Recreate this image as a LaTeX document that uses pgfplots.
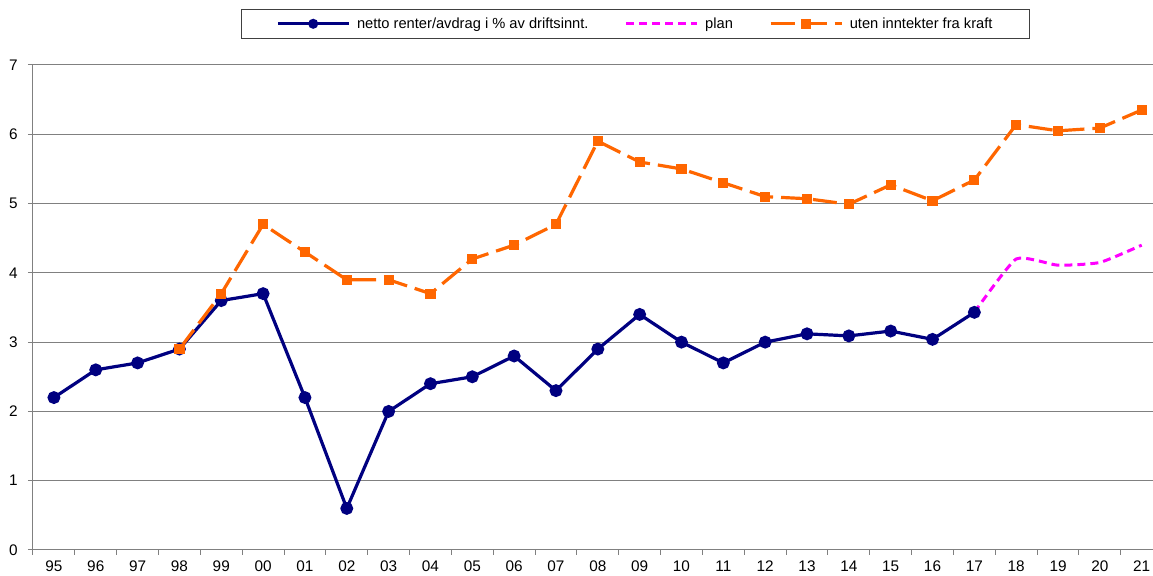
\documentclass[border=0pt]{standalone}
\usepackage{pgfplots}
\pgfplotsset{compat=1.18}
\usepackage{pgfplotstable}
\usepackage{fontspec}
\setmainfont{Liberation Sans}
\definecolor{navy}{HTML}{000080}
\definecolor{orng}{HTML}{FF6600}
\definecolor{mag}{HTML}{FF00FF}
\definecolor{grd}{HTML}{808080}

\pgfplotstableread{
x y
0 2.2
1 2.6
2 2.7
3 2.9
4 3.6
5 3.7
6 2.2
7 0.6
8 2.0
9 2.4
10 2.5
11 2.8
12 2.3
13 2.9
14 3.4
15 3.0
16 2.7
17 3.0
18 3.12
19 3.09
20 3.16
21 3.04
22 3.43
}\netto

\pgfplotstableread{
x y
22 3.43
23 4.20
24 4.11
25 4.15
26 4.40
}\plan

\pgfplotstableread{
x y
3 2.9
4 3.7
5 4.7
6 4.3
7 3.9
8 3.9
9 3.7
10 4.2
11 4.4
12 4.7
13 5.9
14 5.6
15 5.5
16 5.3
17 5.1
18 5.07
19 4.99
20 5.27
21 5.04
22 5.34
23 6.14
24 6.05
25 6.09
26 6.35
}\kraft

\begin{document}
\begin{tikzpicture}
\begin{axis}[
  name=ax,
  scale only axis,
  width=840pt, height=363.75pt,
  xmin=-0.5, xmax=26.27, ymin=0, ymax=7,
  axis x line*=bottom, axis y line*=left,
  axis line style={grd, line width=0.75pt},
  xtick={-0.5,0.5,...,25.5},
  xticklabels={},
  extra x ticks={0,1,...,26},
  extra x tick labels={95,96,97,98,99,00,01,02,03,04,05,06,07,08,09,10,11,12,13,14,15,16,17,18,19,20,21},
  extra x tick style={major tick length=0pt},
  ytick={0,1,...,7},
  ymajorgrids,
  major grid style={grd, line width=0.75pt},
  tick align=outside,
  major tick length=3.75pt,
  tick style={grd, line width=0.75pt},
  /pgf/number format/assume math mode=true,
  tick label style={font=\fontsize{11.5}{13}\selectfont, text=black},
  xticklabel style={inner sep=0pt, yshift=-8pt},
  yticklabel style={inner sep=0pt, xshift=-7.5pt},
  legend columns=3,
  legend cell align=left,
  legend style={at={(axis description cs:0.1857,1.1155)}, anchor=north west,
    draw=black!75, line width=0.75pt,
    font=\fontsize{11}{13}\selectfont,
    inner xsep=26pt, inner ysep=4pt,
    /tikz/every odd column/.append style={column sep=3pt},
    /tikz/every even column/.append style={column sep=25pt}},
  legend image code/.code={\draw[mark repeat=2,mark phase=2] plot coordinates {(0pt,0pt)(26.6pt,0pt)(53.25pt,0pt)};},
  legend image post style={mark size=2.5pt},
]
\addplot[navy, line width=2.4pt, mark=*, mark size=3.6pt, mark options={solid, fill=navy}] table {\netto};
\addlegendentry{netto renter/avdrag i \% av driftsinnt.}
\addplot[mag, line width=2.25pt, dash pattern=on 6pt off 3.75pt, smooth, tension=0.3] table {\plan};
\addlegendentry{plan}
\addplot[orng, line width=2.4pt, dash pattern=on 18pt off 6pt, mark=square*, mark size=2.6pt, mark options={solid, fill=orng}] table {\kraft};
\addlegendentry{uten inntekter fra kraft}
\end{axis}
\pgfresetboundingbox
\path[use as bounding box] ([shift={(-24.75pt,-19.5pt)}]ax.south west) rectangle ([yshift=48.75pt]ax.north east);
\end{tikzpicture}
\end{document}
